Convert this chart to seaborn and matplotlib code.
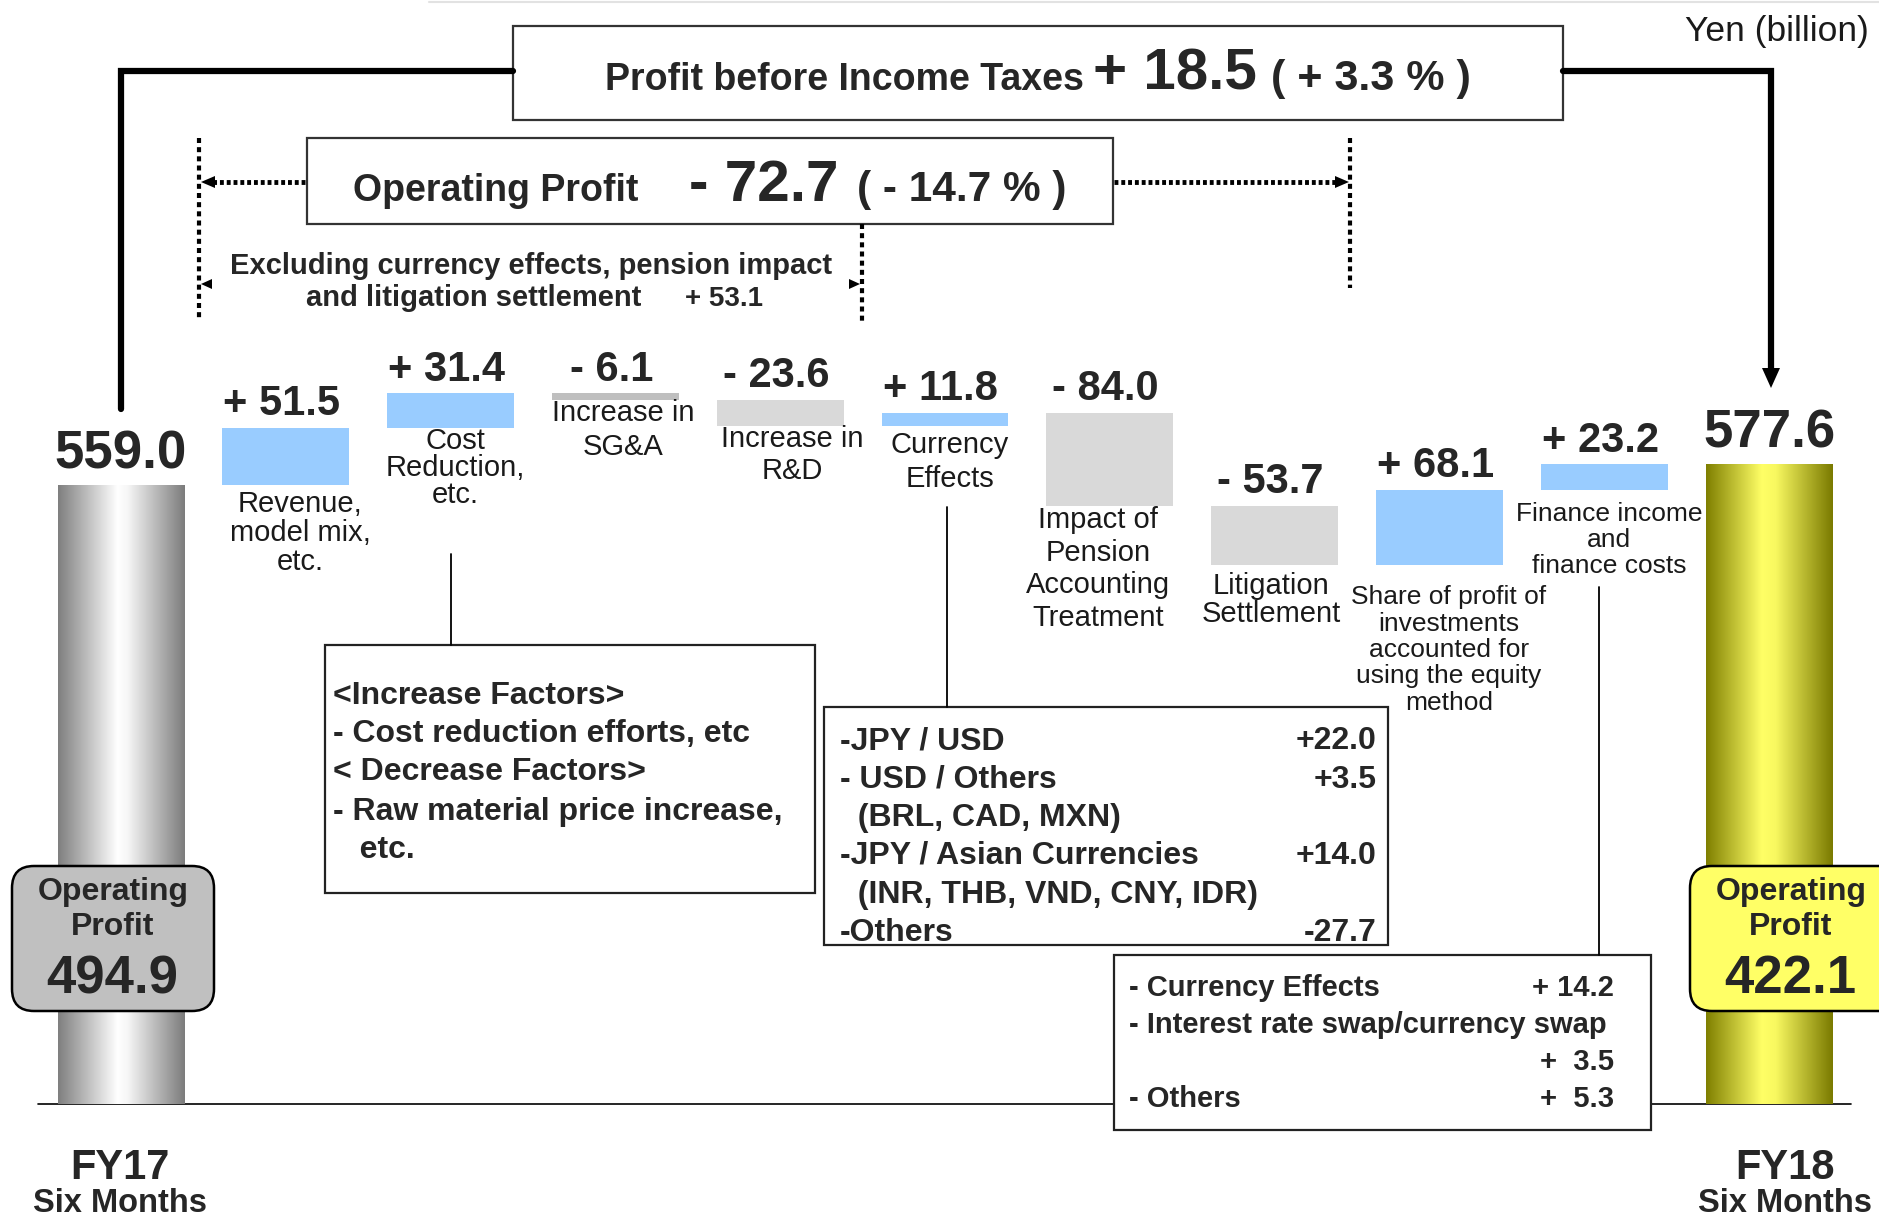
import numpy as np
import pandas as pd
import matplotlib
matplotlib.use("Agg")
import matplotlib.pyplot as plt
import matplotlib.transforms as mtransforms
from matplotlib.colors import LinearSegmentedColormap
from matplotlib.lines import Line2D
from matplotlib.patches import Rectangle, FancyBboxPatch, Polygon
import seaborn as sns

W, H = 1879, 1224
INK = "#262626"

# ---- data -------------------------------------------------------------
periods = ["FY17", "FY18"]
start_value = 559.0
end_value = 577.6
step_labels = [
    "Revenue,\nmodel mix,\netc.",
    "Cost\nReduction,\netc.",
    "Increase in\nSG&A",
    "Increase in\nR&D",
    "Currency\nEffects",
    "Impact of\nPension\nAccounting\nTreatment",
    "Litigation\nSettlement",
    "Share of profit of\ninvestments\naccounted for\nusing the equity\nmethod",
    "Finance income\nand\nfinance costs",
]
step_values = [51.5, 31.4, -6.1, -23.6, 11.8, -84.0, -53.7, 68.1, 23.2]
op_profit = [494.9, 422.1]
pbit_change, pbit_pct = 18.5, 3.3
op_change, op_pct = -72.7, -14.7
underlying_change = 53.1

increase_notes = [
    "<Increase Factors>",
    "- Cost reduction efforts, etc",
    "< Decrease Factors>",
    "- Raw material price increase,",
    "   etc.",
]
currency_items = [
    "-JPY / USD",
    "- USD / Others",
    "  (BRL, CAD, MXN)",
    "-JPY / Asian Currencies",
    "  (INR, THB, VND, CNY, IDR)",
    "-Others",
]
currency_values = ["+22.0", "+3.5", "", "+14.0", "", "-27.7"]
finance_items = [
    "- Currency Effects",
    "- Interest rate swap/currency swap",
    "",
    "- Others",
]
finance_values = ["+ 14.2", "", "+  3.5", "+  5.3"]

# ---- style ------------------------------------------------------------
step_colors = ["#99CCFF", "#99CCFF", "#BFBFBF", "#D9D9D9", "#99CCFF",
               "#D9D9D9", "#D9D9D9", "#99CCFF", "#99CCFF"]
# centre of each step label block, in picture pixels
label_pos = [(300, 533), (455, 468), (623, 430), (792, 455), (950, 462),
             (1098, 569), (1271, 600), (1449, 650), (1609, 540)]
label_size = [21, 21, 21, 21, 21, 21, 21, 19, 19]
label_ls = [1.05, 0.97, 1.26, 1.2, 1.26, 1.22, 1.03, 1.13, 1.13]


def signed(v):
    return f"{'+' if v >= 0 else '-'} {abs(v):.1f}"


sns.set_theme(style="white")
plt.rcParams["font.family"] = ["Liberation Sans", "DejaVu Sans"]

fig = plt.figure(figsize=(W / 100, H / 100), dpi=100)
ax = fig.add_axes([0, 0, 1, 1])
pix = mtransforms.Affine2D().scale(1.0 / W, -1.0 / H).translate(0, 1) + fig.transFigure

# waterfall geometry
levels = start_value + np.concatenate([[0.0], np.cumsum(step_values)])
cats = [periods[0]] + step_labels + [periods[1]]
heights = [start_value] + step_values + [end_value]
bottoms = np.array([0.0] + list(levels[:-1]) + [0.0])
df = pd.DataFrame({"item": cats, "height": heights})

sns.barplot(data=df, x="item", y="height", order=cats, bottom=bottoms,
            width=0.77, color="#99CCFF", saturation=1, errorbar=None, ax=ax)

bars = list(ax.patches)
for p in bars:
    p.set_edgecolor("none")
    p.set_linewidth(0)
for p, c in zip(bars[1:-1], step_colors):
    p.set_facecolor(c)

# cylinder shading for the two totals
grey_cmap = LinearSegmentedColormap.from_list(
    "cyl", [(0, "#7f7f7f"), (0.47, "#ffffff"), (0.55, "#f6f6f6"), (1, "#7c7c7c")])
gold_cmap = LinearSegmentedColormap.from_list(
    "gold", [(0, "#7f7f00"), (0.44, "#ffff66"), (0.55, "#f8f860"), (1, "#7a7a00")])
grad = np.linspace(0, 1, 256).reshape(1, -1)
for p, cmap in [(bars[0], grey_cmap), (bars[-1], gold_cmap)]:
    x0, y0, w, h = p.get_x(), p.get_y(), p.get_width(), p.get_height()
    im = ax.imshow(grad, cmap=cmap, extent=(x0, x0 + w, y0, y0 + h),
                   aspect="auto", zorder=p.get_zorder() + 0.1)
    im.set_clip_path(p)
    p.set_facecolor("none")

# value labels
for p, v in zip(bars[1:-1], step_values):
    top = max(p.get_y(), p.get_y() + p.get_height())
    ax.annotate(signed(v), (p.get_x() + p.get_width() / 2, top),
                xytext=(-3, 9), textcoords="offset points", ha="center",
                va="baseline", fontsize=30, fontweight="bold", color=INK)
for p, v in [(bars[0], start_value), (bars[-1], end_value)]:
    ax.annotate(f"{v:.1f}", (p.get_x() + p.get_width() / 2, p.get_height()),
                xytext=(0, 12), textcoords="offset points", ha="center",
                va="baseline", fontsize=38, fontweight="bold", color=INK)

ax.axhline(0, xmin=38 / W, xmax=1851 / W, color="black", lw=1.2, zorder=0.5)
ax.set_xlim(-0.7342, 10.6675)
ax.set_ylim(-108.35, 996.8)
ax.axis("off")


# ---- annotation helpers (picture pixel coordinates) --------------------
def ptext(x, y, s, **kw):
    kw.setdefault("color", INK)
    fig.text(x, y, s, transform=pix, **kw)


def pline(xs, ys, **kw):
    kw.setdefault("color", "black")
    fig.add_artist(Line2D(xs, ys, transform=pix, **kw))


def ppoly(pts, **kw):
    fig.add_artist(Polygon(pts, closed=True, transform=pix, fc="black", ec="none", **kw))


# step category labels
for s, (x, y), fs, ls in zip(step_labels, label_pos, label_size, label_ls):
    ptext(x, y, s, ha="center", va="center", fontsize=fs, linespacing=ls,
          multialignment="center", color="#1a1a1a")

# faint top rule
pline([429, 1879], [2, 2], color="#e2e2e2", lw=1.5)

# profit before income taxes box + bracket arrow
fig.add_artist(Rectangle((513, 26), 1050, 94, transform=pix, fc="white",
                         ec="#333333", lw=1.6))
ptext(605, 90, "Profit before Income Taxes", fontsize=27, fontweight="bold", va="baseline")
ptext(1093, 90, signed(pbit_change), fontsize=42, fontweight="bold", va="baseline")
ptext(1271, 90, f"( {signed(pbit_pct)} % )", fontsize=31, fontweight="bold", va="baseline")
pline([121, 121, 513], [409, 71, 71], lw=4.5, solid_joinstyle="miter")
pline([1563, 1771, 1771], [71, 71, 372], lw=4.5, solid_joinstyle="miter")
ppoly([(1762, 368), (1780, 368), (1771, 388)])
ptext(1777, 32, "Yen (billion)", fontsize=25.5, ha="center", va="center", color="#1a1a1a")

# operating profit box + dotted brackets
fig.add_artist(Rectangle((307, 138), 806, 86, transform=pix, fc="white",
                         ec="#333333", lw=1.6))
ptext(353, 201, "Operating Profit", fontsize=27, fontweight="bold", va="baseline")
ptext(689, 201, signed(op_change), fontsize=42, fontweight="bold", va="baseline")
ptext(857, 201, f"( {signed(op_pct)} % )", fontsize=30.5, fontweight="bold", va="baseline")

dots = dict(lw=3, ls=(0, (1.2, 1.0)))
pline([199, 199], [138, 321], **dots)
pline([1350, 1350], [138, 288], **dots)
pline([862, 862], [224, 321], **dots)
pline([305, 214], [182, 182], lw=3.5, ls=(0, (0.8, 0.6)))
ppoly([(201, 182), (215, 176), (215, 188)])
pline([1114, 1336], [182, 182], lw=3.5, ls=(0, (0.8, 0.6)))
ppoly([(1349, 182), (1335, 176), (1335, 188)])
ppoly([(201, 284), (212, 279), (212, 289)])
ppoly([(860, 284), (849, 279), (849, 289)])

ptext(230, 274, "Excluding currency effects, pension impact", fontsize=21,
      fontweight="bold", va="baseline")
ptext(306, 306, "and litigation settlement", fontsize=21, fontweight="bold", va="baseline")
ptext(685, 306, signed(underlying_change), fontsize=20, fontweight="bold", va="baseline")

# leader lines
pline([451, 451], [554, 645], lw=1.3)
pline([947, 947], [507, 707], lw=1.3)
pline([1599, 1599], [587, 955], lw=1.3)

# increase / decrease factors box
fig.add_artist(Rectangle((325, 645), 490, 248, transform=pix, fc="white",
                         ec="#222222", lw=1.6))
for s, y in zip(increase_notes, [696, 734, 772, 812, 850]):
    ptext(333, y, s, fontsize=23, fontweight="bold", va="center")

# currency breakdown box
fig.add_artist(Rectangle((824, 707), 564, 238, transform=pix, fc="white",
                         ec="#222222", lw=1.6))
for s, v, y in zip(currency_items, currency_values, [741, 780, 818, 856, 895, 933]):
    ptext(840, y, s, fontsize=23, fontweight="bold", va="center")
    if v:
        ptext(1377, y, v, fontsize=23, fontweight="bold", va="center", ha="right")

# finance income breakdown box
fig.add_artist(Rectangle((1114, 955), 537, 175, transform=pix, fc="white",
                         ec="#222222", lw=1.6))
for s, v, y in zip(finance_items, finance_values, [988, 1025, 1062, 1099]):
    if s:
        ptext(1129, y, s, fontsize=21, fontweight="bold", va="center")
    if v:
        ptext(1614, y, v, fontsize=21, fontweight="bold", va="center", ha="right")

# operating profit badges on the totals
for (x0, w, fc, cx), v in zip([(12, 202, "#c0c0c0", 113), (1690, 220, "#ffff66", 1791)], op_profit):
    fig.add_artist(FancyBboxPatch((x0, 866), w, 145, transform=pix,
                                  boxstyle="round,pad=0,rounding_size=22",
                                  fc=fc, ec="black", lw=1.8))
    ptext(cx, 892, "Operating", fontsize=23, fontweight="bold", ha="center", va="center")
    ptext(cx, 927, "Profit", fontsize=23, fontweight="bold", ha="center", va="center")
    ptext(cx - 1, 979, f"{v:.1f}", fontsize=38, fontweight="bold", ha="center", va="center")

# period labels
for name, cx in zip(periods, [120, 1785]):
    ptext(cx, 1168, name, fontsize=30, fontweight="bold", ha="center", va="center")
    ptext(cx, 1204, "Six Months", fontsize=23.5, fontweight="bold", ha="center", va="center")

fig.savefig("out.png", dpi=100)
